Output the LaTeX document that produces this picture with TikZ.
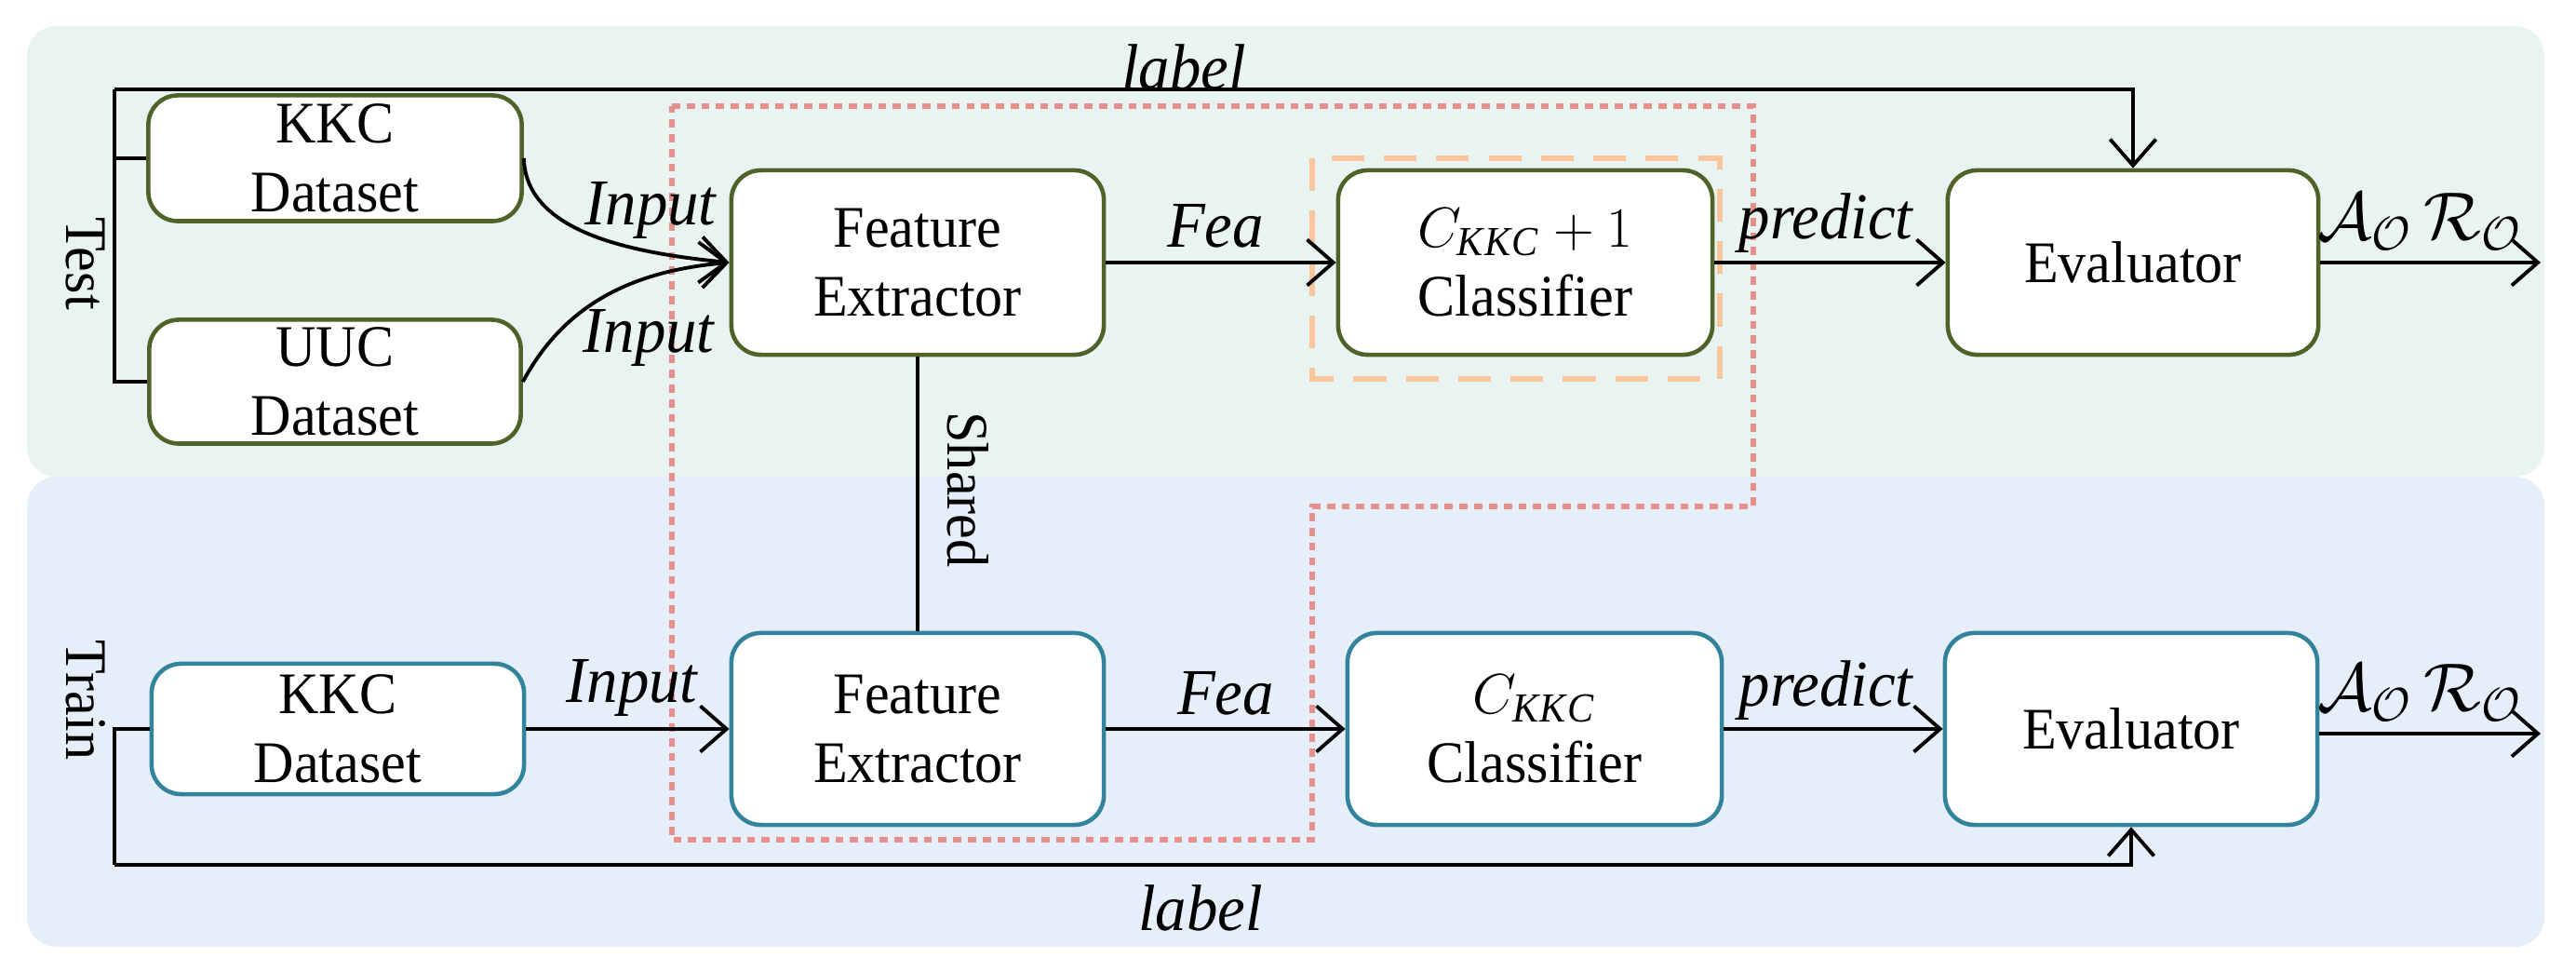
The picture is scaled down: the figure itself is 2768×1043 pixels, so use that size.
\documentclass[tikz,border=0pt]{standalone}
\usepackage{fontspec}
\setmainfont{Liberation Serif}[FakeStretch=0.95]
\usetikzlibrary{arrows.meta}
\definecolor{topbg}{HTML}{E9F3F2}
\definecolor{botbg}{HTML}{E6EEF9}
\definecolor{grn}{HTML}{4F6228}
\definecolor{teal}{HTML}{31849B}
\definecolor{redd}{HTML}{E6908C}
\definecolor{orng}{HTML}{F9C59A}
\begin{document}
\begin{tikzpicture}[x=0.01cm,y=-0.01cm,
  box/.style={draw,line width=1.3pt,fill=white,rounded corners=9pt,align=center,inner sep=0pt,
    font=\fontsize{18}{21}\selectfont},
  gbox/.style={box,draw=grn},
  tbox/.style={box,draw=teal},
  con/.style={line width=1.1pt},
  arr/.style={con,-{Straight Barb[length=8pt,width=14pt,line width=1.1pt]}},
  lab/.style={font=\fontsize{20}{24}\selectfont\itshape},
  side/.style={font=\fontsize{18}{22}\selectfont,rotate=-90}]
\useasboundingbox (0,0) rectangle (2768,1043);
\fill[topbg,rounded corners=9pt] (29,28) rectangle (2734,512);
\fill[botbg,rounded corners=9pt] (29,512) rectangle (2734,1017);
% nodes top
\node[gbox,minimum width=4.01cm,minimum height=1.35cm] (kkc1) at (360,170) {KKC\\Dataset};
\node[gbox,minimum width=3.99cm,minimum height=1.33cm] (uuc) at (360,410) {UUC\\Dataset};
\node[gbox,minimum width=4.00cm,minimum height=1.98cm] (fe1) at (986,282) {Feature\\Extractor};
\node[gbox,minimum width=4.02cm,minimum height=1.98cm] (cls1) at (1639,282) {$C_{\mathit{KKC}}+1$\\Classifier};
\node[gbox,minimum width=3.98cm,minimum height=1.98cm] (ev1) at (2292,282) {Evaluator};
\coordinate (out1) at (2730,282);
% nodes bottom
\node[tbox,minimum width=4.00cm,minimum height=1.40cm] (kkc2) at (363,783) {KKC\\Dataset};
\node[tbox,minimum width=4.00cm,minimum height=2.06cm] (fe2) at (986,783) {Feature\\Extractor};
\node[tbox,minimum width=4.02cm,minimum height=2.06cm] (cls2) at (1649,783) {$C_{\mathit{KKC}}$\\Classifier};
\node[tbox,minimum width=4.00cm,minimum height=2.06cm] (ev2) at (2290,783) {Evaluator};
\coordinate (out2) at (2730,788);
\coordinate (tl) at (123,96);
\coordinate (bl) at (123,929);
% dashed frames
\draw[redd,line width=1.6pt,dash pattern=on 2.5pt off 2pt] (722,114) -- (1884,114) -- (1884,544) -- (1410,544) -- (1410,902) -- (722,902) -- cycle;
\draw[orng,line width=1.8pt,dash pattern=on 10pt off 6pt] (1410,170) rectangle (1848,407);
% connectors top
\draw[con] (kkc1.west) -| (tl);
\draw[con] (uuc.west) -| (tl);
\draw[arr] (tl) -| (ev1.north);
\draw[arr] (kkc1.east) .. controls (565,250) and (680,272) .. (fe1.west);
\draw[arr] (uuc.east) .. controls (610,320) and (690,290) .. (fe1.west);
\draw[arr] (fe1.east) -- (cls1.west);
\draw[arr] (cls1.east) -- (ev1.west);
\draw[arr] (ev1.east) -- (out1);
\draw[con] (fe1.south) -- (fe2.north);
% connectors bottom
\draw[arr] (kkc2.east) -- (fe2.west);
\draw[arr] (fe2.east) -- (cls2.west);
\draw[arr] (cls2.east) -- (ev2.west);
\draw[arr] (ev2.east |- out2) -- (out2);
\draw[con] (kkc2.west) -| (bl);
\draw[arr] (bl) -| (ev2.south);
% labels
\node[lab] (l1) at (1272,72) {label};
\node[lab] (l2) at (1290,975) {label};
\node[lab] (i1) at (699,226) {Input};
\node[lab] (i2) at (697,363) {Input};
\node[lab] (i3) at (679,739) {Input};
\node[lab] (f1) at (1306,243) {Fea};
\node[lab] (f2) at (1317,745) {Fea};
\node[lab] (p1) at (1962,240) {predict};
\node[lab] (p2) at (1962,742) {predict};
\node[font=\fontsize{20}{24}\selectfont] (m1) at (2600,238) {$\mathcal{A}_{\mathcal{O}}\,\mathcal{R}_{\mathcal{O}}$};
\node[font=\fontsize{20}{24}\selectfont] (m2) at (2600,744) {$\mathcal{A}_{\mathcal{O}}\,\mathcal{R}_{\mathcal{O}}$};
\node[side] (t1) at (92,283) {Test};
\node[side] (t2) at (92,752) {Train};
\node[side] (sh) at (1040,526) {Shared};
\end{tikzpicture}
\end{document}
